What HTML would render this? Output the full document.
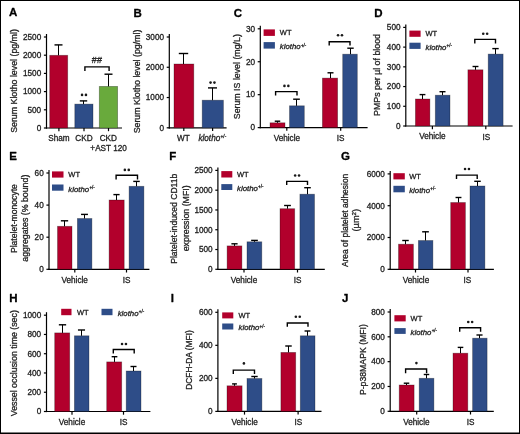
<!DOCTYPE html>
<html><head><meta charset="utf-8"><title>Figure</title>
<style>
html,body{margin:0;padding:0;background:#fff;}
body{width:520px;height:434px;overflow:hidden;}
svg{display:block;font-family:"Liberation Sans",sans-serif;}
#fig{filter:blur(0.3px);}
text{stroke-width:0.3px;stroke-linejoin:round;}
</style></head><body>
<svg width="520" height="434" viewBox="0 0 520 434">
<rect x="0" y="0" width="520" height="434" fill="#fff"/>
<g id="fig">
<text x="9.00" y="16.40" font-size="11.5" text-anchor="start" font-weight="bold" font-style="normal" fill="#000" stroke="#000">A</text>
<line x1="46.50" y1="34.00" x2="46.50" y2="128.60" stroke="#000" stroke-width="1.2"/>
<line x1="43.90" y1="128.00" x2="46.50" y2="128.00" stroke="#000" stroke-width="1.2"/>
<text x="41.20" y="130.80" font-size="8.2" text-anchor="end" font-weight="normal" font-style="normal" fill="#222" stroke="#222">0</text>
<line x1="43.90" y1="109.80" x2="46.50" y2="109.80" stroke="#000" stroke-width="1.2"/>
<text x="41.20" y="112.60" font-size="8.2" text-anchor="end" font-weight="normal" font-style="normal" fill="#222" stroke="#222">500</text>
<line x1="43.90" y1="91.60" x2="46.50" y2="91.60" stroke="#000" stroke-width="1.2"/>
<text x="41.20" y="94.40" font-size="8.2" text-anchor="end" font-weight="normal" font-style="normal" fill="#222" stroke="#222">1000</text>
<line x1="43.90" y1="73.40" x2="46.50" y2="73.40" stroke="#000" stroke-width="1.2"/>
<text x="41.20" y="76.20" font-size="8.2" text-anchor="end" font-weight="normal" font-style="normal" fill="#222" stroke="#222">1500</text>
<line x1="43.90" y1="55.20" x2="46.50" y2="55.20" stroke="#000" stroke-width="1.2"/>
<text x="41.20" y="58.00" font-size="8.2" text-anchor="end" font-weight="normal" font-style="normal" fill="#222" stroke="#222">2000</text>
<line x1="43.90" y1="37.00" x2="46.50" y2="37.00" stroke="#000" stroke-width="1.2"/>
<text x="41.20" y="39.80" font-size="8.2" text-anchor="end" font-weight="normal" font-style="normal" fill="#222" stroke="#222">2500</text>
<line x1="45.90" y1="128.00" x2="122.00" y2="128.00" stroke="#000" stroke-width="1.2"/>
<line x1="58.90" y1="128.00" x2="58.90" y2="131.20" stroke="#000" stroke-width="1.2"/>
<line x1="84.00" y1="128.00" x2="84.00" y2="131.20" stroke="#000" stroke-width="1.2"/>
<line x1="108.50" y1="128.00" x2="108.50" y2="131.20" stroke="#000" stroke-width="1.2"/>
<rect x="49.70" y="55.30" width="18.00" height="72.70" fill="#b2002c" stroke="#000" stroke-opacity="0.35" stroke-width="0.8"/>
<line x1="58.50" y1="55.30" x2="58.50" y2="44.90" stroke="#000" stroke-width="1.0"/>
<line x1="54.50" y1="44.90" x2="62.50" y2="44.90" stroke="#000" stroke-width="1.4"/>
<rect x="74.80" y="104.10" width="18.20" height="23.90" fill="#2e4d88" stroke="#000" stroke-opacity="0.35" stroke-width="0.8"/>
<line x1="83.50" y1="104.10" x2="83.50" y2="100.90" stroke="#000" stroke-width="1.0"/>
<line x1="79.80" y1="100.90" x2="87.20" y2="100.90" stroke="#000" stroke-width="1.4"/>
<rect x="99.30" y="86.40" width="18.30" height="41.60" fill="#69aa3c" stroke="#000" stroke-opacity="0.35" stroke-width="0.8"/>
<line x1="108.50" y1="86.40" x2="108.50" y2="74.20" stroke="#000" stroke-width="1.0"/>
<line x1="104.50" y1="74.20" x2="112.50" y2="74.20" stroke="#000" stroke-width="1.4"/>
<path d="M84.90,71.10 L84.90,66.90 L109.10,66.90 L109.10,71.10" fill="none" stroke="#000" stroke-width="1.4"/>
<circle cx="82.05" cy="94.90" r="1.3" fill="#1a1a1a"/>
<circle cx="85.95" cy="94.90" r="1.3" fill="#1a1a1a"/>
<text x="96.90" y="63.10" font-size="9" text-anchor="middle" letter-spacing="0.2" fill="#222" stroke="#222">##</text>
<text x="59.00" y="141.30" font-size="8.2" text-anchor="middle" font-weight="normal" font-style="normal" fill="#222" stroke="#222">Sham</text>
<text x="84.00" y="141.30" font-size="8.2" text-anchor="middle" font-weight="normal" font-style="normal" fill="#222" stroke="#222">CKD</text>
<text x="108.30" y="141.30" font-size="8.2" text-anchor="middle" font-weight="normal" font-style="normal" fill="#222" stroke="#222">CKD</text>
<text x="108.60" y="151.20" font-size="8.2" text-anchor="middle" font-weight="normal" font-style="normal" fill="#222" stroke="#222">+AST 120</text>
<text transform="translate(17.20,81.00) rotate(-90)" x="0" y="0" font-size="8.8" text-anchor="middle" fill="#222" stroke="#222">Serum Klotho level (pg/ml)</text>
<text x="133.50" y="16.60" font-size="11.5" text-anchor="start" font-weight="bold" font-style="normal" fill="#000" stroke="#000">B</text>
<line x1="169.30" y1="34.00" x2="169.30" y2="128.40" stroke="#000" stroke-width="1.2"/>
<line x1="166.70" y1="127.80" x2="169.30" y2="127.80" stroke="#000" stroke-width="1.2"/>
<text x="164.00" y="130.60" font-size="8.2" text-anchor="end" font-weight="normal" font-style="normal" fill="#222" stroke="#222">0</text>
<line x1="166.70" y1="97.53" x2="169.30" y2="97.53" stroke="#000" stroke-width="1.2"/>
<text x="164.00" y="100.33" font-size="8.2" text-anchor="end" font-weight="normal" font-style="normal" fill="#222" stroke="#222">1000</text>
<line x1="166.70" y1="67.27" x2="169.30" y2="67.27" stroke="#000" stroke-width="1.2"/>
<text x="164.00" y="70.07" font-size="8.2" text-anchor="end" font-weight="normal" font-style="normal" fill="#222" stroke="#222">2000</text>
<line x1="166.70" y1="37.00" x2="169.30" y2="37.00" stroke="#000" stroke-width="1.2"/>
<text x="164.00" y="39.80" font-size="8.2" text-anchor="end" font-weight="normal" font-style="normal" fill="#222" stroke="#222">3000</text>
<line x1="168.70" y1="127.80" x2="226.60" y2="127.80" stroke="#000" stroke-width="1.2"/>
<line x1="183.80" y1="127.80" x2="183.80" y2="131.00" stroke="#000" stroke-width="1.2"/>
<line x1="212.60" y1="127.80" x2="212.60" y2="131.00" stroke="#000" stroke-width="1.2"/>
<rect x="174.00" y="64.00" width="19.80" height="63.80" fill="#b2002c" stroke="#000" stroke-opacity="0.35" stroke-width="0.8"/>
<line x1="183.50" y1="64.00" x2="183.50" y2="53.50" stroke="#000" stroke-width="1.0"/>
<line x1="178.80" y1="53.50" x2="188.20" y2="53.50" stroke="#000" stroke-width="1.4"/>
<rect x="202.20" y="100.20" width="21.20" height="27.60" fill="#2e4d88" stroke="#000" stroke-opacity="0.35" stroke-width="0.8"/>
<line x1="212.50" y1="100.20" x2="212.50" y2="87.90" stroke="#000" stroke-width="1.0"/>
<line x1="208.00" y1="87.90" x2="217.00" y2="87.90" stroke="#000" stroke-width="1.4"/>
<circle cx="210.55" cy="82.60" r="1.3" fill="#1a1a1a"/>
<circle cx="214.45" cy="82.60" r="1.3" fill="#1a1a1a"/>
<text x="183.30" y="141.10" font-size="8.2" text-anchor="middle" font-weight="normal" font-style="normal" fill="#222" stroke="#222">WT</text>
<text x="198.40" y="141.10" font-size="8.2" text-anchor="start" fill="#222" stroke="#222"><tspan font-style="italic">klotho</tspan><tspan font-size="4.76" dy="-2.71" dx="0.3">+/-</tspan></text>
<text transform="translate(139.80,81.50) rotate(-90)" x="0" y="0" font-size="8.8" text-anchor="middle" fill="#222" stroke="#222">Serum Klotho level (pg/ml)</text>
<text x="233.70" y="16.90" font-size="11.5" text-anchor="start" font-weight="bold" font-style="normal" fill="#000" stroke="#000">C</text>
<line x1="260.30" y1="25.80" x2="260.30" y2="128.20" stroke="#000" stroke-width="1.2"/>
<line x1="257.70" y1="127.60" x2="260.30" y2="127.60" stroke="#000" stroke-width="1.2"/>
<text x="255.00" y="130.40" font-size="8.2" text-anchor="end" font-weight="normal" font-style="normal" fill="#222" stroke="#222">0</text>
<line x1="257.70" y1="94.67" x2="260.30" y2="94.67" stroke="#000" stroke-width="1.2"/>
<text x="255.00" y="97.47" font-size="8.2" text-anchor="end" font-weight="normal" font-style="normal" fill="#222" stroke="#222">10</text>
<line x1="257.70" y1="61.73" x2="260.30" y2="61.73" stroke="#000" stroke-width="1.2"/>
<text x="255.00" y="64.53" font-size="8.2" text-anchor="end" font-weight="normal" font-style="normal" fill="#222" stroke="#222">20</text>
<line x1="257.70" y1="28.80" x2="260.30" y2="28.80" stroke="#000" stroke-width="1.2"/>
<text x="255.00" y="31.60" font-size="8.2" text-anchor="end" font-weight="normal" font-style="normal" fill="#222" stroke="#222">30</text>
<line x1="259.70" y1="127.60" x2="367.60" y2="127.60" stroke="#000" stroke-width="1.2"/>
<line x1="286.80" y1="127.60" x2="286.80" y2="130.80" stroke="#000" stroke-width="1.2"/>
<line x1="340.70" y1="127.60" x2="340.70" y2="130.80" stroke="#000" stroke-width="1.2"/>
<rect x="270.00" y="122.80" width="15.00" height="4.80" fill="#b2002c" stroke="#000" stroke-opacity="0.35" stroke-width="0.8"/>
<line x1="277.50" y1="122.80" x2="277.50" y2="121.20" stroke="#000" stroke-width="1.0"/>
<line x1="274.75" y1="121.20" x2="280.25" y2="121.20" stroke="#000" stroke-width="1.4"/>
<rect x="289.50" y="105.80" width="14.80" height="21.80" fill="#2e4d88" stroke="#000" stroke-opacity="0.35" stroke-width="0.8"/>
<line x1="296.50" y1="105.80" x2="296.50" y2="99.20" stroke="#000" stroke-width="1.0"/>
<line x1="293.15" y1="99.20" x2="299.85" y2="99.20" stroke="#000" stroke-width="1.4"/>
<rect x="322.40" y="78.10" width="15.20" height="49.50" fill="#b2002c" stroke="#000" stroke-opacity="0.35" stroke-width="0.8"/>
<line x1="330.50" y1="78.10" x2="330.50" y2="72.80" stroke="#000" stroke-width="1.0"/>
<line x1="327.50" y1="72.80" x2="333.50" y2="72.80" stroke="#000" stroke-width="1.4"/>
<rect x="342.70" y="54.20" width="14.60" height="73.40" fill="#2e4d88" stroke="#000" stroke-opacity="0.35" stroke-width="0.8"/>
<line x1="350.50" y1="54.20" x2="350.50" y2="48.20" stroke="#000" stroke-width="1.0"/>
<line x1="347.30" y1="48.20" x2="353.70" y2="48.20" stroke="#000" stroke-width="1.4"/>
<path d="M275.60,95.40 L275.60,91.60 L297.00,91.60 L297.00,95.40" fill="none" stroke="#000" stroke-width="1.4"/>
<path d="M329.20,45.60 L329.20,41.80 L350.00,41.80 L350.00,45.60" fill="none" stroke="#000" stroke-width="1.4"/>
<circle cx="284.45" cy="85.90" r="1.3" fill="#1a1a1a"/>
<circle cx="288.35" cy="85.90" r="1.3" fill="#1a1a1a"/>
<circle cx="338.05" cy="35.30" r="1.3" fill="#1a1a1a"/>
<circle cx="341.95" cy="35.30" r="1.3" fill="#1a1a1a"/>
<text x="286.90" y="141.30" font-size="8.2" text-anchor="middle" font-weight="normal" font-style="normal" fill="#222" stroke="#222">Vehicle</text>
<text x="340.60" y="141.00" font-size="8.2" text-anchor="middle" font-weight="normal" font-style="normal" fill="#222" stroke="#222">IS</text>
<rect x="263.60" y="29.40" width="11.30" height="6.50" fill="#b2002c"/>
<rect x="263.60" y="42.10" width="11.30" height="6.50" fill="#2e4d88"/>
<text x="279.80" y="34.85" font-size="7.5" text-anchor="start" font-weight="normal" font-style="normal" fill="#222" stroke="#222">WT</text>
<text x="279.80" y="49.25" font-size="7.8" text-anchor="start" fill="#222" stroke="#222"><tspan font-style="italic">klotho</tspan><tspan font-size="4.52" dy="-2.57" dx="0.3">+/-</tspan></text>
<text transform="translate(240.40,76.70) rotate(-90)" x="0" y="0" font-size="8.8" text-anchor="middle" fill="#222" stroke="#222">Serum IS level (mg/L)</text>
<text x="374.30" y="16.60" font-size="11.5" text-anchor="start" font-weight="bold" font-style="normal" fill="#000" stroke="#000">D</text>
<line x1="405.80" y1="24.40" x2="405.80" y2="126.60" stroke="#000" stroke-width="1.2"/>
<line x1="403.20" y1="126.00" x2="405.80" y2="126.00" stroke="#000" stroke-width="1.2"/>
<text x="400.50" y="128.80" font-size="8.2" text-anchor="end" font-weight="normal" font-style="normal" fill="#222" stroke="#222">0</text>
<line x1="403.20" y1="106.28" x2="405.80" y2="106.28" stroke="#000" stroke-width="1.2"/>
<text x="400.50" y="109.08" font-size="8.2" text-anchor="end" font-weight="normal" font-style="normal" fill="#222" stroke="#222">100</text>
<line x1="403.20" y1="86.56" x2="405.80" y2="86.56" stroke="#000" stroke-width="1.2"/>
<text x="400.50" y="89.36" font-size="8.2" text-anchor="end" font-weight="normal" font-style="normal" fill="#222" stroke="#222">200</text>
<line x1="403.20" y1="66.84" x2="405.80" y2="66.84" stroke="#000" stroke-width="1.2"/>
<text x="400.50" y="69.64" font-size="8.2" text-anchor="end" font-weight="normal" font-style="normal" fill="#222" stroke="#222">300</text>
<line x1="403.20" y1="47.12" x2="405.80" y2="47.12" stroke="#000" stroke-width="1.2"/>
<text x="400.50" y="49.92" font-size="8.2" text-anchor="end" font-weight="normal" font-style="normal" fill="#222" stroke="#222">400</text>
<line x1="403.20" y1="27.40" x2="405.80" y2="27.40" stroke="#000" stroke-width="1.2"/>
<text x="400.50" y="30.20" font-size="8.2" text-anchor="end" font-weight="normal" font-style="normal" fill="#222" stroke="#222">500</text>
<line x1="405.20" y1="126.00" x2="512.60" y2="126.00" stroke="#000" stroke-width="1.2"/>
<line x1="432.40" y1="126.00" x2="432.40" y2="129.20" stroke="#000" stroke-width="1.2"/>
<line x1="485.80" y1="126.00" x2="485.80" y2="129.20" stroke="#000" stroke-width="1.2"/>
<rect x="415.40" y="99.00" width="14.50" height="27.00" fill="#b2002c" stroke="#000" stroke-opacity="0.35" stroke-width="0.8"/>
<line x1="422.50" y1="99.00" x2="422.50" y2="94.60" stroke="#000" stroke-width="1.0"/>
<line x1="419.60" y1="94.60" x2="425.40" y2="94.60" stroke="#000" stroke-width="1.4"/>
<rect x="435.30" y="95.20" width="14.70" height="30.80" fill="#2e4d88" stroke="#000" stroke-opacity="0.35" stroke-width="0.8"/>
<line x1="442.50" y1="95.20" x2="442.50" y2="91.70" stroke="#000" stroke-width="1.0"/>
<line x1="439.50" y1="91.70" x2="445.50" y2="91.70" stroke="#000" stroke-width="1.4"/>
<rect x="467.90" y="69.80" width="15.10" height="56.20" fill="#b2002c" stroke="#000" stroke-opacity="0.35" stroke-width="0.8"/>
<line x1="475.50" y1="69.80" x2="475.50" y2="66.50" stroke="#000" stroke-width="1.0"/>
<line x1="472.55" y1="66.50" x2="478.45" y2="66.50" stroke="#000" stroke-width="1.4"/>
<rect x="488.20" y="54.10" width="14.90" height="71.90" fill="#2e4d88" stroke="#000" stroke-opacity="0.35" stroke-width="0.8"/>
<line x1="495.50" y1="54.10" x2="495.50" y2="48.60" stroke="#000" stroke-width="1.0"/>
<line x1="492.30" y1="48.60" x2="498.70" y2="48.60" stroke="#000" stroke-width="1.4"/>
<path d="M474.80,43.40 L474.80,39.40 L495.50,39.40 L495.50,43.40" fill="none" stroke="#000" stroke-width="1.4"/>
<circle cx="483.25" cy="33.70" r="1.3" fill="#1a1a1a"/>
<circle cx="487.15" cy="33.70" r="1.3" fill="#1a1a1a"/>
<text x="432.40" y="139.30" font-size="8.2" text-anchor="middle" font-weight="normal" font-style="normal" fill="#222" stroke="#222">Vehicle</text>
<text x="486.40" y="139.50" font-size="8.2" text-anchor="middle" font-weight="normal" font-style="normal" fill="#222" stroke="#222">IS</text>
<rect x="409.40" y="30.60" width="11.20" height="6.20" fill="#b2002c"/>
<rect x="409.40" y="42.70" width="11.20" height="6.20" fill="#2e4d88"/>
<text x="425.50" y="35.90" font-size="7.5" text-anchor="start" font-weight="normal" font-style="normal" fill="#222" stroke="#222">WT</text>
<text x="425.50" y="49.70" font-size="7.8" text-anchor="start" fill="#222" stroke="#222"><tspan font-style="italic">klotho</tspan><tspan font-size="4.52" dy="-2.57" dx="0.3">+/-</tspan></text>
<text transform="translate(380.30,75.00) rotate(-90)" x="0" y="0" font-size="8.8" text-anchor="middle" fill="#222" stroke="#222">PMPs per µl of blood</text>
<text x="9.25" y="160.40" font-size="11.5" text-anchor="start" font-weight="bold" font-style="normal" fill="#000" stroke="#000">E</text>
<line x1="49.00" y1="170.00" x2="49.00" y2="269.90" stroke="#000" stroke-width="1.2"/>
<line x1="46.40" y1="269.30" x2="49.00" y2="269.30" stroke="#000" stroke-width="1.2"/>
<text x="43.70" y="272.10" font-size="8.2" text-anchor="end" font-weight="normal" font-style="normal" fill="#222" stroke="#222">0</text>
<line x1="46.40" y1="237.20" x2="49.00" y2="237.20" stroke="#000" stroke-width="1.2"/>
<text x="43.70" y="240.00" font-size="8.2" text-anchor="end" font-weight="normal" font-style="normal" fill="#222" stroke="#222">20</text>
<line x1="46.40" y1="205.10" x2="49.00" y2="205.10" stroke="#000" stroke-width="1.2"/>
<text x="43.70" y="207.90" font-size="8.2" text-anchor="end" font-weight="normal" font-style="normal" fill="#222" stroke="#222">40</text>
<line x1="46.40" y1="173.00" x2="49.00" y2="173.00" stroke="#000" stroke-width="1.2"/>
<text x="43.70" y="175.80" font-size="8.2" text-anchor="end" font-weight="normal" font-style="normal" fill="#222" stroke="#222">60</text>
<line x1="48.40" y1="269.30" x2="149.40" y2="269.30" stroke="#000" stroke-width="1.2"/>
<line x1="74.80" y1="269.30" x2="74.80" y2="272.50" stroke="#000" stroke-width="1.2"/>
<line x1="126.50" y1="269.30" x2="126.50" y2="272.50" stroke="#000" stroke-width="1.2"/>
<rect x="57.50" y="226.30" width="14.50" height="43.00" fill="#b2002c" stroke="#000" stroke-opacity="0.35" stroke-width="0.8"/>
<line x1="64.50" y1="226.30" x2="64.50" y2="220.80" stroke="#000" stroke-width="1.0"/>
<line x1="60.85" y1="220.80" x2="68.15" y2="220.80" stroke="#000" stroke-width="1.4"/>
<rect x="77.40" y="218.50" width="14.50" height="50.80" fill="#2e4d88" stroke="#000" stroke-opacity="0.35" stroke-width="0.8"/>
<line x1="84.50" y1="218.50" x2="84.50" y2="214.40" stroke="#000" stroke-width="1.0"/>
<line x1="81.05" y1="214.40" x2="87.95" y2="214.40" stroke="#000" stroke-width="1.4"/>
<rect x="109.10" y="200.00" width="15.10" height="69.30" fill="#b2002c" stroke="#000" stroke-opacity="0.35" stroke-width="0.8"/>
<line x1="116.50" y1="200.00" x2="116.50" y2="194.60" stroke="#000" stroke-width="1.0"/>
<line x1="113.40" y1="194.60" x2="119.60" y2="194.60" stroke="#000" stroke-width="1.4"/>
<rect x="129.10" y="186.30" width="14.80" height="83.00" fill="#2e4d88" stroke="#000" stroke-opacity="0.35" stroke-width="0.8"/>
<line x1="136.50" y1="186.30" x2="136.50" y2="181.40" stroke="#000" stroke-width="1.0"/>
<line x1="133.25" y1="181.40" x2="139.75" y2="181.40" stroke="#000" stroke-width="1.4"/>
<path d="M116.10,179.50 L116.10,175.30 L137.50,175.30 L137.50,179.50" fill="none" stroke="#000" stroke-width="1.4"/>
<circle cx="124.85" cy="169.90" r="1.3" fill="#1a1a1a"/>
<circle cx="128.75" cy="169.90" r="1.3" fill="#1a1a1a"/>
<text x="74.70" y="283.20" font-size="8.2" text-anchor="middle" font-weight="normal" font-style="normal" fill="#222" stroke="#222">Vehicle</text>
<text x="126.70" y="283.10" font-size="8.2" text-anchor="middle" font-weight="normal" font-style="normal" fill="#222" stroke="#222">IS</text>
<rect x="52.00" y="171.40" width="11.50" height="6.20" fill="#b2002c"/>
<rect x="52.00" y="184.50" width="11.50" height="6.20" fill="#2e4d88"/>
<text x="68.30" y="176.70" font-size="7.5" text-anchor="start" font-weight="normal" font-style="normal" fill="#222" stroke="#222">WT</text>
<text x="68.30" y="191.50" font-size="7.8" text-anchor="start" fill="#222" stroke="#222"><tspan font-style="italic">klotho</tspan><tspan font-size="4.52" dy="-2.57" dx="0.3">+/-</tspan></text>
<text transform="translate(17.10,218.60) rotate(-90)" x="0" y="0" font-size="8.65" text-anchor="middle" fill="#222" stroke="#222">Platelet-monocyte</text>
<text transform="translate(28.20,218.20) rotate(-90)" x="0" y="0" font-size="8.8" text-anchor="middle" fill="#222" stroke="#222">aggregates (% bound)</text>
<text x="169.35" y="160.30" font-size="11.5" text-anchor="start" font-weight="bold" font-style="normal" fill="#000" stroke="#000">F</text>
<line x1="217.90" y1="167.40" x2="217.90" y2="269.90" stroke="#000" stroke-width="1.2"/>
<line x1="215.30" y1="269.30" x2="217.90" y2="269.30" stroke="#000" stroke-width="1.2"/>
<text x="212.60" y="272.10" font-size="8.2" text-anchor="end" font-weight="normal" font-style="normal" fill="#222" stroke="#222">0</text>
<line x1="215.30" y1="249.52" x2="217.90" y2="249.52" stroke="#000" stroke-width="1.2"/>
<text x="212.60" y="252.32" font-size="8.2" text-anchor="end" font-weight="normal" font-style="normal" fill="#222" stroke="#222">500</text>
<line x1="215.30" y1="229.74" x2="217.90" y2="229.74" stroke="#000" stroke-width="1.2"/>
<text x="212.60" y="232.54" font-size="8.2" text-anchor="end" font-weight="normal" font-style="normal" fill="#222" stroke="#222">1000</text>
<line x1="215.30" y1="209.96" x2="217.90" y2="209.96" stroke="#000" stroke-width="1.2"/>
<text x="212.60" y="212.76" font-size="8.2" text-anchor="end" font-weight="normal" font-style="normal" fill="#222" stroke="#222">1500</text>
<line x1="215.30" y1="190.18" x2="217.90" y2="190.18" stroke="#000" stroke-width="1.2"/>
<text x="212.60" y="192.98" font-size="8.2" text-anchor="end" font-weight="normal" font-style="normal" fill="#222" stroke="#222">2000</text>
<line x1="215.30" y1="170.40" x2="217.90" y2="170.40" stroke="#000" stroke-width="1.2"/>
<text x="212.60" y="173.20" font-size="8.2" text-anchor="end" font-weight="normal" font-style="normal" fill="#222" stroke="#222">2500</text>
<line x1="217.30" y1="269.30" x2="324.80" y2="269.30" stroke="#000" stroke-width="1.2"/>
<line x1="244.00" y1="269.30" x2="244.00" y2="272.50" stroke="#000" stroke-width="1.2"/>
<line x1="297.50" y1="269.30" x2="297.50" y2="272.50" stroke="#000" stroke-width="1.2"/>
<rect x="227.10" y="245.90" width="14.80" height="23.40" fill="#b2002c" stroke="#000" stroke-opacity="0.35" stroke-width="0.8"/>
<line x1="234.50" y1="245.90" x2="234.50" y2="243.80" stroke="#000" stroke-width="1.0"/>
<line x1="231.40" y1="243.80" x2="237.60" y2="243.80" stroke="#000" stroke-width="1.4"/>
<rect x="247.00" y="241.80" width="14.80" height="27.50" fill="#2e4d88" stroke="#000" stroke-opacity="0.35" stroke-width="0.8"/>
<line x1="254.50" y1="241.80" x2="254.50" y2="240.40" stroke="#000" stroke-width="1.0"/>
<line x1="251.15" y1="240.40" x2="257.85" y2="240.40" stroke="#000" stroke-width="1.4"/>
<rect x="280.00" y="208.70" width="14.70" height="60.60" fill="#b2002c" stroke="#000" stroke-opacity="0.35" stroke-width="0.8"/>
<line x1="287.50" y1="208.70" x2="287.50" y2="205.50" stroke="#000" stroke-width="1.0"/>
<line x1="284.10" y1="205.50" x2="290.90" y2="205.50" stroke="#000" stroke-width="1.4"/>
<rect x="299.90" y="194.20" width="14.60" height="75.10" fill="#2e4d88" stroke="#000" stroke-opacity="0.35" stroke-width="0.8"/>
<line x1="307.50" y1="194.20" x2="307.50" y2="187.70" stroke="#000" stroke-width="1.0"/>
<line x1="304.20" y1="187.70" x2="310.80" y2="187.70" stroke="#000" stroke-width="1.4"/>
<path d="M286.70,184.90 L286.70,181.40 L307.50,181.40 L307.50,184.90" fill="none" stroke="#000" stroke-width="1.4"/>
<circle cx="295.15" cy="175.50" r="1.3" fill="#1a1a1a"/>
<circle cx="299.05" cy="175.50" r="1.3" fill="#1a1a1a"/>
<text x="244.00" y="283.20" font-size="8.2" text-anchor="middle" font-weight="normal" font-style="normal" fill="#222" stroke="#222">Vehicle</text>
<text x="297.50" y="283.00" font-size="8.2" text-anchor="middle" font-weight="normal" font-style="normal" fill="#222" stroke="#222">IS</text>
<rect x="221.30" y="171.10" width="11.00" height="6.40" fill="#b2002c"/>
<rect x="221.30" y="184.10" width="11.00" height="5.90" fill="#2e4d88"/>
<text x="237.00" y="176.50" font-size="7.5" text-anchor="start" font-weight="normal" font-style="normal" fill="#222" stroke="#222">WT</text>
<text x="237.00" y="190.95" font-size="7.8" text-anchor="start" fill="#222" stroke="#222"><tspan font-style="italic">klotho</tspan><tspan font-size="4.52" dy="-2.57" dx="0.3">+/-</tspan></text>
<text transform="translate(177.00,218.75) rotate(-90)" x="0" y="0" font-size="8.6" text-anchor="middle" fill="#222" stroke="#222">Platelet-induced CD11b</text>
<text transform="translate(189.00,218.30) rotate(-90)" x="0" y="0" font-size="8.8" text-anchor="middle" fill="#222" stroke="#222">expression (MFI)</text>
<text x="341.00" y="160.40" font-size="11.5" text-anchor="start" font-weight="bold" font-style="normal" fill="#000" stroke="#000">G</text>
<line x1="390.20" y1="170.90" x2="390.20" y2="269.90" stroke="#000" stroke-width="1.2"/>
<line x1="387.60" y1="269.30" x2="390.20" y2="269.30" stroke="#000" stroke-width="1.2"/>
<text x="384.90" y="272.10" font-size="8.2" text-anchor="end" font-weight="normal" font-style="normal" fill="#222" stroke="#222">0</text>
<line x1="387.60" y1="237.50" x2="390.20" y2="237.50" stroke="#000" stroke-width="1.2"/>
<text x="384.90" y="240.30" font-size="8.2" text-anchor="end" font-weight="normal" font-style="normal" fill="#222" stroke="#222">2000</text>
<line x1="387.60" y1="205.70" x2="390.20" y2="205.70" stroke="#000" stroke-width="1.2"/>
<text x="384.90" y="208.50" font-size="8.2" text-anchor="end" font-weight="normal" font-style="normal" fill="#222" stroke="#222">4000</text>
<line x1="387.60" y1="173.90" x2="390.20" y2="173.90" stroke="#000" stroke-width="1.2"/>
<text x="384.90" y="176.70" font-size="8.2" text-anchor="end" font-weight="normal" font-style="normal" fill="#222" stroke="#222">6000</text>
<line x1="389.60" y1="269.30" x2="493.90" y2="269.30" stroke="#000" stroke-width="1.2"/>
<line x1="415.50" y1="269.30" x2="415.50" y2="272.50" stroke="#000" stroke-width="1.2"/>
<line x1="468.00" y1="269.30" x2="468.00" y2="272.50" stroke="#000" stroke-width="1.2"/>
<rect x="398.50" y="244.20" width="14.90" height="25.10" fill="#b2002c" stroke="#000" stroke-opacity="0.35" stroke-width="0.8"/>
<line x1="405.50" y1="244.20" x2="405.50" y2="240.50" stroke="#000" stroke-width="1.0"/>
<line x1="402.25" y1="240.50" x2="408.75" y2="240.50" stroke="#000" stroke-width="1.4"/>
<rect x="418.40" y="240.50" width="14.50" height="28.80" fill="#2e4d88" stroke="#000" stroke-opacity="0.35" stroke-width="0.8"/>
<line x1="425.50" y1="240.50" x2="425.50" y2="231.80" stroke="#000" stroke-width="1.0"/>
<line x1="422.15" y1="231.80" x2="428.85" y2="231.80" stroke="#000" stroke-width="1.4"/>
<rect x="450.70" y="202.50" width="14.70" height="66.80" fill="#b2002c" stroke="#000" stroke-opacity="0.35" stroke-width="0.8"/>
<line x1="458.50" y1="202.50" x2="458.50" y2="197.50" stroke="#000" stroke-width="1.0"/>
<line x1="455.55" y1="197.50" x2="461.45" y2="197.50" stroke="#000" stroke-width="1.4"/>
<rect x="470.00" y="186.00" width="14.90" height="83.30" fill="#2e4d88" stroke="#000" stroke-opacity="0.35" stroke-width="0.8"/>
<line x1="477.50" y1="186.00" x2="477.50" y2="181.30" stroke="#000" stroke-width="1.0"/>
<line x1="474.25" y1="181.30" x2="480.75" y2="181.30" stroke="#000" stroke-width="1.4"/>
<path d="M456.50,179.00 L456.50,175.10 L477.20,175.10 L477.20,179.00" fill="none" stroke="#000" stroke-width="1.4"/>
<circle cx="465.05" cy="169.00" r="1.3" fill="#1a1a1a"/>
<circle cx="468.95" cy="169.00" r="1.3" fill="#1a1a1a"/>
<text x="416.00" y="282.90" font-size="8.2" text-anchor="middle" font-weight="normal" font-style="normal" fill="#222" stroke="#222">Vehicle</text>
<text x="467.30" y="283.00" font-size="8.2" text-anchor="middle" font-weight="normal" font-style="normal" fill="#222" stroke="#222">IS</text>
<rect x="393.40" y="173.20" width="11.40" height="6.20" fill="#b2002c"/>
<rect x="393.40" y="185.80" width="11.40" height="6.50" fill="#2e4d88"/>
<text x="409.20" y="178.50" font-size="7.5" text-anchor="start" font-weight="normal" font-style="normal" fill="#222" stroke="#222">WT</text>
<text x="409.20" y="192.95" font-size="7.8" text-anchor="start" fill="#222" stroke="#222"><tspan font-style="italic">klotho</tspan><tspan font-size="4.52" dy="-2.57" dx="0.3">+/-</tspan></text>
<text transform="translate(348.40,220.40) rotate(-90)" x="0" y="0" font-size="8.45" text-anchor="middle" fill="#222" stroke="#222">Area of platelet adhesion</text>
<text transform="translate(359.20,220.20) rotate(-90)" x="0" y="0" font-size="9.3" text-anchor="middle" fill="#222" stroke="#222">(µm<tspan font-size="6.2" dy="-3.2">2</tspan><tspan dy="3.2">)</tspan></text>
<text x="9.25" y="302.00" font-size="11.5" text-anchor="start" font-weight="bold" font-style="normal" fill="#000" stroke="#000">H</text>
<line x1="46.50" y1="312.20" x2="46.50" y2="412.10" stroke="#000" stroke-width="1.2"/>
<line x1="43.90" y1="411.50" x2="46.50" y2="411.50" stroke="#000" stroke-width="1.2"/>
<text x="41.20" y="414.30" font-size="8.2" text-anchor="end" font-weight="normal" font-style="normal" fill="#222" stroke="#222">0</text>
<line x1="43.90" y1="392.24" x2="46.50" y2="392.24" stroke="#000" stroke-width="1.2"/>
<text x="41.20" y="395.04" font-size="8.2" text-anchor="end" font-weight="normal" font-style="normal" fill="#222" stroke="#222">200</text>
<line x1="43.90" y1="372.98" x2="46.50" y2="372.98" stroke="#000" stroke-width="1.2"/>
<text x="41.20" y="375.78" font-size="8.2" text-anchor="end" font-weight="normal" font-style="normal" fill="#222" stroke="#222">400</text>
<line x1="43.90" y1="353.72" x2="46.50" y2="353.72" stroke="#000" stroke-width="1.2"/>
<text x="41.20" y="356.52" font-size="8.2" text-anchor="end" font-weight="normal" font-style="normal" fill="#222" stroke="#222">600</text>
<line x1="43.90" y1="334.46" x2="46.50" y2="334.46" stroke="#000" stroke-width="1.2"/>
<text x="41.20" y="337.26" font-size="8.2" text-anchor="end" font-weight="normal" font-style="normal" fill="#222" stroke="#222">800</text>
<line x1="43.90" y1="315.20" x2="46.50" y2="315.20" stroke="#000" stroke-width="1.2"/>
<text x="41.20" y="318.00" font-size="8.2" text-anchor="end" font-weight="normal" font-style="normal" fill="#222" stroke="#222">1000</text>
<line x1="45.90" y1="411.50" x2="150.40" y2="411.50" stroke="#000" stroke-width="1.2"/>
<line x1="72.00" y1="411.50" x2="72.00" y2="414.70" stroke="#000" stroke-width="1.2"/>
<line x1="123.50" y1="411.50" x2="123.50" y2="414.70" stroke="#000" stroke-width="1.2"/>
<rect x="54.70" y="332.90" width="15.00" height="78.60" fill="#b2002c" stroke="#000" stroke-opacity="0.35" stroke-width="0.8"/>
<line x1="62.50" y1="332.90" x2="62.50" y2="324.80" stroke="#000" stroke-width="1.0"/>
<line x1="58.85" y1="324.80" x2="66.15" y2="324.80" stroke="#000" stroke-width="1.4"/>
<rect x="74.40" y="335.80" width="14.60" height="75.70" fill="#2e4d88" stroke="#000" stroke-opacity="0.35" stroke-width="0.8"/>
<line x1="81.50" y1="335.80" x2="81.50" y2="330.00" stroke="#000" stroke-width="1.0"/>
<line x1="77.95" y1="330.00" x2="85.05" y2="330.00" stroke="#000" stroke-width="1.4"/>
<rect x="106.70" y="361.90" width="15.00" height="49.60" fill="#b2002c" stroke="#000" stroke-opacity="0.35" stroke-width="0.8"/>
<line x1="114.50" y1="361.90" x2="114.50" y2="356.70" stroke="#000" stroke-width="1.0"/>
<line x1="111.65" y1="356.70" x2="117.35" y2="356.70" stroke="#000" stroke-width="1.4"/>
<rect x="126.20" y="371.00" width="14.80" height="40.50" fill="#2e4d88" stroke="#000" stroke-opacity="0.35" stroke-width="0.8"/>
<line x1="133.50" y1="371.00" x2="133.50" y2="366.50" stroke="#000" stroke-width="1.0"/>
<line x1="130.50" y1="366.50" x2="136.50" y2="366.50" stroke="#000" stroke-width="1.4"/>
<path d="M113.30,353.60 L113.30,349.50 L134.20,349.50 L134.20,353.60" fill="none" stroke="#000" stroke-width="1.4"/>
<circle cx="122.05" cy="344.00" r="1.3" fill="#1a1a1a"/>
<circle cx="125.95" cy="344.00" r="1.3" fill="#1a1a1a"/>
<text x="72.00" y="424.90" font-size="8.2" text-anchor="middle" font-weight="normal" font-style="normal" fill="#222" stroke="#222">Vehicle</text>
<text x="123.60" y="425.00" font-size="8.2" text-anchor="middle" font-weight="normal" font-style="normal" fill="#222" stroke="#222">IS</text>
<rect x="61.20" y="308.80" width="10.30" height="6.40" fill="#b2002c"/>
<rect x="101.50" y="308.80" width="11.00" height="6.40" fill="#2e4d88"/>
<text x="76.90" y="314.60" font-size="7.5" text-anchor="start" font-weight="normal" font-style="normal" fill="#222" stroke="#222">WT</text>
<text x="117.70" y="315.90" font-size="7.8" text-anchor="start" fill="#222" stroke="#222"><tspan font-style="italic">klotho</tspan><tspan font-size="4.52" dy="-2.57" dx="0.3">+/-</tspan></text>
<text transform="translate(17.30,363.20) rotate(-90)" x="0" y="0" font-size="8.8" text-anchor="middle" fill="#222" stroke="#222">Vessel occlusion time (sec)</text>
<text x="170.75" y="302.30" font-size="11.5" text-anchor="start" font-weight="bold" font-style="normal" fill="#000" stroke="#000">I</text>
<line x1="217.90" y1="309.30" x2="217.90" y2="412.00" stroke="#000" stroke-width="1.2"/>
<line x1="215.30" y1="411.40" x2="217.90" y2="411.40" stroke="#000" stroke-width="1.2"/>
<text x="212.60" y="414.20" font-size="8.2" text-anchor="end" font-weight="normal" font-style="normal" fill="#222" stroke="#222">0</text>
<line x1="215.30" y1="378.37" x2="217.90" y2="378.37" stroke="#000" stroke-width="1.2"/>
<text x="212.60" y="381.17" font-size="8.2" text-anchor="end" font-weight="normal" font-style="normal" fill="#222" stroke="#222">200</text>
<line x1="215.30" y1="345.33" x2="217.90" y2="345.33" stroke="#000" stroke-width="1.2"/>
<text x="212.60" y="348.13" font-size="8.2" text-anchor="end" font-weight="normal" font-style="normal" fill="#222" stroke="#222">400</text>
<line x1="215.30" y1="312.30" x2="217.90" y2="312.30" stroke="#000" stroke-width="1.2"/>
<text x="212.60" y="315.10" font-size="8.2" text-anchor="end" font-weight="normal" font-style="normal" fill="#222" stroke="#222">600</text>
<line x1="217.30" y1="411.40" x2="321.50" y2="411.40" stroke="#000" stroke-width="1.2"/>
<line x1="244.50" y1="411.40" x2="244.50" y2="414.60" stroke="#000" stroke-width="1.2"/>
<line x1="298.10" y1="411.40" x2="298.10" y2="414.60" stroke="#000" stroke-width="1.2"/>
<rect x="227.00" y="385.80" width="15.10" height="25.60" fill="#b2002c" stroke="#000" stroke-opacity="0.35" stroke-width="0.8"/>
<line x1="234.50" y1="385.80" x2="234.50" y2="383.90" stroke="#000" stroke-width="1.0"/>
<line x1="232.10" y1="383.90" x2="236.90" y2="383.90" stroke="#000" stroke-width="1.4"/>
<rect x="247.00" y="378.50" width="14.90" height="32.90" fill="#2e4d88" stroke="#000" stroke-opacity="0.35" stroke-width="0.8"/>
<line x1="254.50" y1="378.50" x2="254.50" y2="376.50" stroke="#000" stroke-width="1.0"/>
<line x1="251.30" y1="376.50" x2="257.70" y2="376.50" stroke="#000" stroke-width="1.4"/>
<rect x="280.90" y="352.40" width="14.80" height="59.00" fill="#b2002c" stroke="#000" stroke-opacity="0.35" stroke-width="0.8"/>
<line x1="288.50" y1="352.40" x2="288.50" y2="346.00" stroke="#000" stroke-width="1.0"/>
<line x1="285.25" y1="346.00" x2="291.75" y2="346.00" stroke="#000" stroke-width="1.4"/>
<rect x="300.30" y="335.80" width="14.70" height="75.60" fill="#2e4d88" stroke="#000" stroke-opacity="0.35" stroke-width="0.8"/>
<line x1="307.50" y1="335.80" x2="307.50" y2="331.00" stroke="#000" stroke-width="1.0"/>
<line x1="304.55" y1="331.00" x2="310.45" y2="331.00" stroke="#000" stroke-width="1.4"/>
<path d="M233.30,374.10 L233.30,370.10 L254.50,370.10 L254.50,374.10" fill="none" stroke="#000" stroke-width="1.4"/>
<path d="M287.30,326.70 L287.30,323.00 L308.00,323.00 L308.00,326.70" fill="none" stroke="#000" stroke-width="1.4"/>
<circle cx="243.90" cy="363.40" r="1.3" fill="#1a1a1a"/>
<circle cx="295.85" cy="316.80" r="1.3" fill="#1a1a1a"/>
<circle cx="299.75" cy="316.80" r="1.3" fill="#1a1a1a"/>
<text x="244.60" y="425.30" font-size="8.2" text-anchor="middle" font-weight="normal" font-style="normal" fill="#222" stroke="#222">Vehicle</text>
<text x="298.30" y="424.80" font-size="8.2" text-anchor="middle" font-weight="normal" font-style="normal" fill="#222" stroke="#222">IS</text>
<rect x="222.20" y="312.40" width="11.10" height="6.00" fill="#b2002c"/>
<rect x="222.20" y="323.50" width="11.10" height="6.00" fill="#2e4d88"/>
<text x="238.50" y="317.60" font-size="7.5" text-anchor="start" font-weight="normal" font-style="normal" fill="#222" stroke="#222">WT</text>
<text x="238.50" y="330.40" font-size="7.8" text-anchor="start" fill="#222" stroke="#222"><tspan font-style="italic">klotho</tspan><tspan font-size="4.52" dy="-2.57" dx="0.3">+/-</tspan></text>
<text transform="translate(192.00,360.00) rotate(-90)" x="0" y="0" font-size="8.4" text-anchor="middle" fill="#222" stroke="#222">DCFH-DA (MFI)</text>
<text x="341.90" y="302.40" font-size="11.5" text-anchor="start" font-weight="bold" font-style="normal" fill="#000" stroke="#000">J</text>
<line x1="390.20" y1="309.00" x2="390.20" y2="411.90" stroke="#000" stroke-width="1.2"/>
<line x1="387.60" y1="411.30" x2="390.20" y2="411.30" stroke="#000" stroke-width="1.2"/>
<text x="384.90" y="414.10" font-size="8.2" text-anchor="end" font-weight="normal" font-style="normal" fill="#222" stroke="#222">0</text>
<line x1="387.60" y1="386.48" x2="390.20" y2="386.48" stroke="#000" stroke-width="1.2"/>
<text x="384.90" y="389.28" font-size="8.2" text-anchor="end" font-weight="normal" font-style="normal" fill="#222" stroke="#222">200</text>
<line x1="387.60" y1="361.65" x2="390.20" y2="361.65" stroke="#000" stroke-width="1.2"/>
<text x="384.90" y="364.45" font-size="8.2" text-anchor="end" font-weight="normal" font-style="normal" fill="#222" stroke="#222">400</text>
<line x1="387.60" y1="336.82" x2="390.20" y2="336.82" stroke="#000" stroke-width="1.2"/>
<text x="384.90" y="339.62" font-size="8.2" text-anchor="end" font-weight="normal" font-style="normal" fill="#222" stroke="#222">600</text>
<line x1="387.60" y1="312.00" x2="390.20" y2="312.00" stroke="#000" stroke-width="1.2"/>
<text x="384.90" y="314.80" font-size="8.2" text-anchor="end" font-weight="normal" font-style="normal" fill="#222" stroke="#222">800</text>
<line x1="389.60" y1="411.30" x2="493.80" y2="411.30" stroke="#000" stroke-width="1.2"/>
<line x1="416.70" y1="411.30" x2="416.70" y2="414.50" stroke="#000" stroke-width="1.2"/>
<line x1="470.50" y1="411.30" x2="470.50" y2="414.50" stroke="#000" stroke-width="1.2"/>
<rect x="399.20" y="385.00" width="14.90" height="26.30" fill="#b2002c" stroke="#000" stroke-opacity="0.35" stroke-width="0.8"/>
<line x1="406.50" y1="385.00" x2="406.50" y2="383.20" stroke="#000" stroke-width="1.0"/>
<line x1="403.75" y1="383.20" x2="409.25" y2="383.20" stroke="#000" stroke-width="1.4"/>
<rect x="419.20" y="378.30" width="14.70" height="33.00" fill="#2e4d88" stroke="#000" stroke-opacity="0.35" stroke-width="0.8"/>
<line x1="426.50" y1="378.30" x2="426.50" y2="374.50" stroke="#000" stroke-width="1.0"/>
<line x1="423.75" y1="374.50" x2="429.25" y2="374.50" stroke="#000" stroke-width="1.4"/>
<rect x="453.00" y="353.20" width="14.80" height="58.10" fill="#b2002c" stroke="#000" stroke-opacity="0.35" stroke-width="0.8"/>
<line x1="460.50" y1="353.20" x2="460.50" y2="347.40" stroke="#000" stroke-width="1.0"/>
<line x1="457.70" y1="347.40" x2="463.30" y2="347.40" stroke="#000" stroke-width="1.4"/>
<rect x="472.60" y="338.20" width="14.50" height="73.10" fill="#2e4d88" stroke="#000" stroke-opacity="0.35" stroke-width="0.8"/>
<line x1="479.50" y1="338.20" x2="479.50" y2="335.00" stroke="#000" stroke-width="1.0"/>
<line x1="476.45" y1="335.00" x2="482.55" y2="335.00" stroke="#000" stroke-width="1.4"/>
<path d="M405.60,373.20 L405.60,369.00 L426.60,369.00 L426.60,373.20" fill="none" stroke="#000" stroke-width="1.4"/>
<path d="M459.70,331.70 L459.70,327.80 L480.60,327.80 L480.60,331.70" fill="none" stroke="#000" stroke-width="1.4"/>
<circle cx="416.40" cy="363.10" r="1.3" fill="#1a1a1a"/>
<circle cx="468.25" cy="322.00" r="1.3" fill="#1a1a1a"/>
<circle cx="472.15" cy="322.00" r="1.3" fill="#1a1a1a"/>
<text x="416.40" y="425.00" font-size="8.2" text-anchor="middle" font-weight="normal" font-style="normal" fill="#222" stroke="#222">Vehicle</text>
<text x="470.60" y="424.60" font-size="8.2" text-anchor="middle" font-weight="normal" font-style="normal" fill="#222" stroke="#222">IS</text>
<rect x="394.40" y="315.20" width="11.30" height="6.20" fill="#b2002c"/>
<rect x="394.40" y="328.10" width="11.30" height="5.80" fill="#2e4d88"/>
<text x="410.60" y="320.50" font-size="7.5" text-anchor="start" font-weight="normal" font-style="normal" fill="#222" stroke="#222">WT</text>
<text x="410.60" y="334.90" font-size="7.8" text-anchor="start" fill="#222" stroke="#222"><tspan font-style="italic">klotho</tspan><tspan font-size="4.52" dy="-2.57" dx="0.3">+/-</tspan></text>
<text transform="translate(366.00,359.60) rotate(-90)" x="0" y="0" font-size="8.7" text-anchor="middle" fill="#222" stroke="#222">P-p38MAPK (MFI)</text>
</g>
<rect x="0.5" y="0.5" width="519" height="433" fill="none" stroke="#000" stroke-width="1"/>
<rect x="0" y="432" width="520" height="1" fill="#000" fill-opacity="0.5"/>
</svg>
</body></html>
